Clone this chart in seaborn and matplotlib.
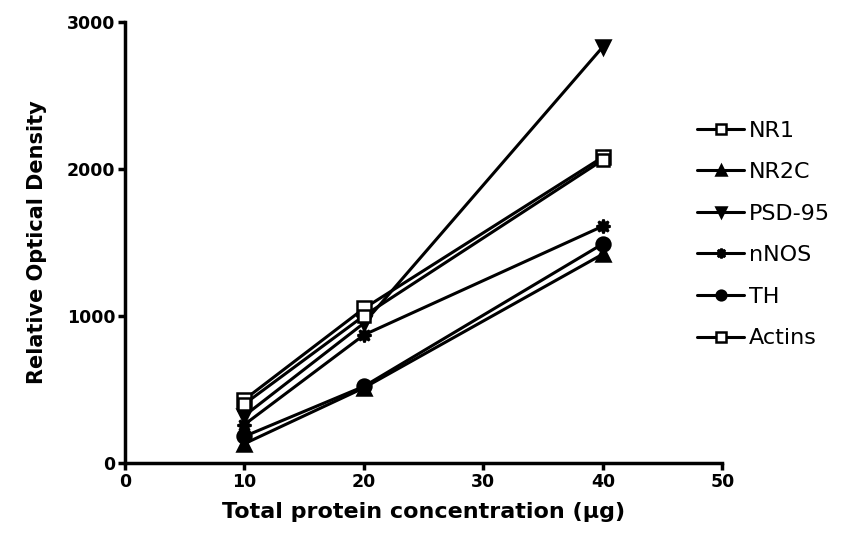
import pandas as pd
import numpy as np
import matplotlib.pyplot as plt
import seaborn as sns

# values
protein_ug = [10, 20, 40]
proteins = ['NR1', 'NR2C', 'PSD-95', 'nNOS', 'TH', 'Actins']
nr1 = [430, 1050, 2080]
nr2c = [130, 510, 1420]
psd95 = [320, 950, 2830]
nnos = [260, 870, 1610]
th = [180, 520, 1490]
actins = [400, 1000, 2060]

series = [nr1, nr2c, psd95, nnos, th, actins]
rows = []
for name, vals in zip(proteins, series):
    for x, y in zip(protein_ug, vals):
        rows.append({'conc': x, 'od': y, 'protein': name})
data = pd.DataFrame(rows)

sns.set_style('ticks', {'axes.edgecolor': 'black', 'text.color': 'black',
                        'axes.labelcolor': 'black', 'xtick.color': 'black',
                        'ytick.color': 'black'})
plt.rcParams['font.family'] = ['DejaVu Sans']

fig = plt.figure(figsize=(8.61, 5.59), dpi=100)
ax = fig.add_axes([0.145, 0.172, 0.694, 0.789])

markers = {'NR1': 's', 'NR2C': '^', 'PSD-95': 'v', 'nNOS': (8, 1, 0), 'TH': 'o', 'Actins': 's'}
palette = {p: 'black' for p in proteins}

sns.lineplot(data=data, x='conc', y='od', hue='protein', style='protein',
             markers=markers, dashes=False, palette=palette, ax=ax,
             linewidth=2.2, markersize=10, markeredgewidth=1.8,
             markeredgecolor='black', legend=True)

# open squares for NR1 and Actins
for i, line in enumerate(ax.lines[:len(proteins)]):
    if proteins[i] in ('NR1', 'Actins'):
        line.set_markerfacecolor('white')
    if proteins[i] == 'Actins':
        line.set_markersize(8)

ax.set_xlim(0, 50)
ax.set_ylim(0, 3000)
ax.set_xticks([0, 10, 20, 30, 40, 50])
ax.set_yticks([0, 1000, 2000, 3000])
ax.tick_params(axis='both', width=2.5, length=5, labelsize=12.5, direction='out', pad=2)
for lbl in ax.get_xticklabels() + ax.get_yticklabels():
    lbl.set_fontweight('bold')
for s in ['left', 'bottom']:
    ax.spines[s].set_linewidth(2.5)
sns.despine(ax=ax)

ax.set_xlabel('Total protein concentration (\u03bcg)', fontsize=16, fontweight='bold', labelpad=8)
ax.set_ylabel('Relative Optical Density', fontsize=15, fontweight='bold', labelpad=14)

handles, labels = ax.get_legend_handles_labels()
for h, l in zip(handles, labels):
    h.set_color('black')
    h.set_markeredgecolor('black')
    h.set_markersize(7)
    if l in ('NR1', 'Actins'):
        h.set_markerfacecolor('white')
ax.legend(handles, labels, loc='upper left', bbox_to_anchor=(0.957, 0.776),
          frameon=False, fontsize=16, handlelength=2.15, handletextpad=0.2,
          labelspacing=0.97, borderaxespad=0, borderpad=0)

fig.savefig('out.png', dpi=100)
